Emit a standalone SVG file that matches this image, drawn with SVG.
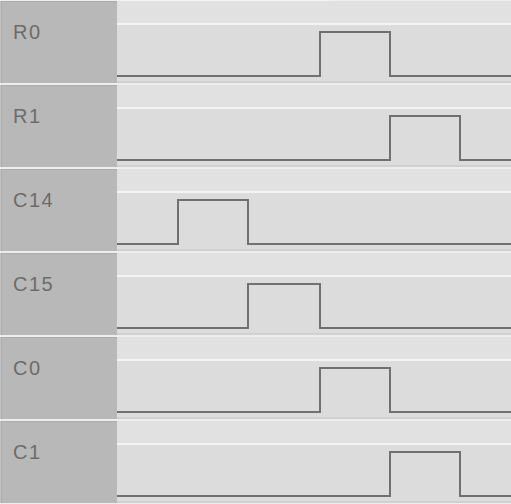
<svg xmlns="http://www.w3.org/2000/svg" width="511" height="504" viewBox="0 0 511 504">
<style>
.bg{fill:#ededed}
.lab{fill:#b8b8b8}
.labtop{fill:#acacac}
.labedge{fill:#c2c2c2}
.up{fill:#e1e1e1}
.sep{fill:#f4f4f4}
.low{fill:#dcdcdc}
.shade{fill:#d0d0d0}
.sig{fill:none;stroke:#707070;stroke-width:2;stroke-linejoin:miter}
.txt{font-family:"Liberation Sans",Arial,sans-serif;font-size:20px;fill:#6c6c6c;letter-spacing:1.5px}
</style>
<defs>
<g id="rowbg">
<rect class="lab" x="0" y="1" width="117" height="82"/>
<rect class="labtop" x="1" y="1" width="116" height="1"/>
<rect class="labedge" x="0" y="1" width="1" height="82"/>
<rect class="labtop" x="1" y="2" width="1" height="81"/>
<rect class="up" x="117" y="1" width="394" height="22"/>
<rect class="sep" x="117" y="23" width="394" height="2"/>
<rect class="low" x="117" y="25" width="394" height="56"/>
<rect class="shade" x="117" y="81" width="394" height="2"/>
</g>
</defs>
<rect class="bg" x="0" y="0" width="511" height="504"/>
<rect x="117" y="0" width="212" height="1" fill="#f4f4f4"/>
<g id="R0">
<use href="#rowbg"/>
<text class="txt" x="13" y="39">R0</text>
<path class="sig" d="M117,76 H320 V32 H390 V76 H511"/>
</g>
<g id="R1" transform="translate(0,84)">
<use href="#rowbg"/>
<text class="txt" x="13" y="39">R1</text>
<path class="sig" d="M117,76 H390 V32 H460 V76 H511"/>
</g>
<g id="C14" transform="translate(0,168)">
<use href="#rowbg"/>
<text class="txt" x="13" y="39">C14</text>
<path class="sig" d="M117,76 H178 V32 H248 V76 H511"/>
</g>
<g id="C15" transform="translate(0,252)">
<use href="#rowbg"/>
<text class="txt" x="13" y="39">C15</text>
<path class="sig" d="M117,76 H248 V32 H320 V76 H511"/>
</g>
<g id="C0" transform="translate(0,336)">
<use href="#rowbg"/>
<text class="txt" x="13" y="39">C0</text>
<path class="sig" d="M117,76 H320 V32 H390 V76 H511"/>
</g>
<g id="C1" transform="translate(0,420)">
<use href="#rowbg"/>
<text class="txt" x="13" y="39">C1</text>
<path class="sig" d="M117,76 H390 V32 H460 V76 H511"/>
</g>
<g id="connectors"/>
</svg>
